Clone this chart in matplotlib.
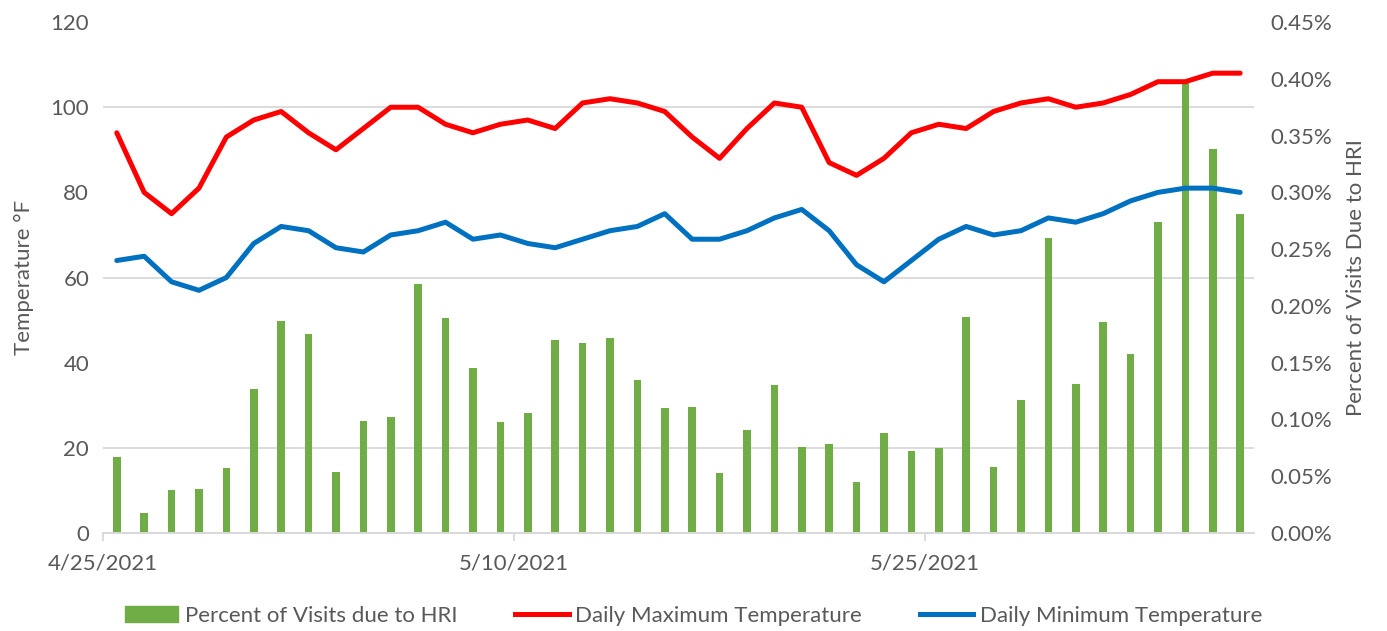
import matplotlib
matplotlib.use("Agg")
import matplotlib.pyplot as plt
from matplotlib.ticker import FuncFormatter
from matplotlib.lines import Line2D
from matplotlib.patches import Patch
import numpy as np
import pandas as pd

# --- data ---
dates = pd.date_range("2021-04-25", periods=42, freq="D")

# percent of ED visits due to heat related illness (values in %)
hri_pct = [0.067, 0.018, 0.038, 0.039, 0.057, 0.127, 0.187, 0.175, 0.054, 0.099,
           0.102, 0.219, 0.189, 0.145, 0.098, 0.106, 0.170, 0.167, 0.172, 0.135,
           0.110, 0.111, 0.053, 0.091, 0.130, 0.076, 0.078, 0.045, 0.088, 0.072,
           0.075, 0.190, 0.058, 0.117, 0.260, 0.131, 0.186, 0.158, 0.274, 0.396,
           0.338, 0.281]

t_max = [94, 80, 75, 81, 93, 97, 99, 94, 90, 95, 100, 100, 96, 94, 96, 97, 95, 101,
         102, 101, 99, 93, 88, 95, 101, 100, 87, 84, 88, 94, 96, 95, 99, 101, 102,
         100, 101, 103, 106, 106, 108, 108]

t_min = [64, 65, 59, 57, 60, 68, 72, 71, 67, 66, 70, 71, 73, 69, 70, 68, 67, 69,
         71, 72, 75, 69, 69, 71, 74, 76, 71, 63, 59, 64, 69, 72, 70, 71, 74, 73,
         75, 78, 80, 81, 81, 80]

temp_ticks = [0, 20, 40, 60, 80, 100, 120]
label_every = 15

GREEN = "#70AD47"
RED = "#FF0000"
BLUE = "#0070C0"
TXT = "#595959"
GRID = "#D9D9D9"
FS = 16

plt.rcParams["font.family"] = ["Lato", "DejaVu Sans"]

fig = plt.figure(figsize=(13.87, 6.31), dpi=100)
ax = fig.add_axes([0.0743, 0.1553, 0.8297, 0.8097])
ax2 = ax.twinx()

x = np.arange(len(dates)) + 0.5

# bars on the right axis
ax2.bar(x, hri_pct, width=0.28, color=GREEN, zorder=2)
ax2.set_ylim(0, 0.45)
ax2.yaxis.set_major_locator(plt.MultipleLocator(0.05))
ax2.yaxis.set_major_formatter(FuncFormatter(lambda v, p: f"{v:.2f}%"))
# gridlines follow the temperature ticks, drawn behind the bars
ax2.set_yticks([t * 0.45 / 120 for t in temp_ticks], minor=True)
ax2.grid(which="minor", axis="y", color=GRID, lw=1.3, zorder=0)
ax2.tick_params(which="minor", length=0)
ax2.set_axisbelow(True)

# temperature lines on the left axis, above the bars
ax.plot(x, t_max, color=RED, lw=3.6, solid_joinstyle="round", solid_capstyle="round")
ax.plot(x, t_min, color=BLUE, lw=3.6, solid_joinstyle="round", solid_capstyle="round")
ax.set_zorder(ax2.get_zorder() + 1)
ax.patch.set_visible(False)
ax.set_ylim(0, 120)
ax.set_yticks(temp_ticks)
ax.set_xlim(0, len(dates))
tick_idx = list(range(0, len(dates), label_every))
ax.set_xticks(tick_idx)
ax.set_xticklabels([f"{dates[i].month}/{dates[i].day}/{dates[i].year}" for i in tick_idx])

for a in (ax, ax2):
    for s in ("top", "left", "right"):
        a.spines[s].set_visible(False)
    a.spines["bottom"].set_color(GRID)
    a.spines["bottom"].set_linewidth(1.3)
    a.tick_params(axis="y", length=0, labelsize=FS, labelcolor=TXT, pad=10)
ax.tick_params(axis="x", length=6, color=GRID, width=1.3, labelsize=FS, labelcolor=TXT, pad=9)
ax2.tick_params(axis="y", pad=12)

ax.set_ylabel("Temperature °F", fontsize=FS, color=TXT, labelpad=12)
ax2.set_ylabel("Percent of Visits Due to HRI", fontsize=FS, color=TXT, labelpad=10)

handles = [Patch(color=GREEN, label="Percent of Visits due to HRI"),
           Line2D([], [], color=RED, lw=3.6, label="Daily Maximum Temperature"),
           Line2D([], [], color=BLUE, lw=3.6, label="Daily Minimum Temperature")]
leg = fig.legend(handles=handles, loc="center", bbox_to_anchor=(0.5, 0.024), ncol=3,
                 frameon=False, fontsize=FS, handlelength=2.4, columnspacing=2.6,
                 handletextpad=0.3)
for t in leg.get_texts():
    t.set_color(TXT)

fig.savefig("out.png", dpi=100)
